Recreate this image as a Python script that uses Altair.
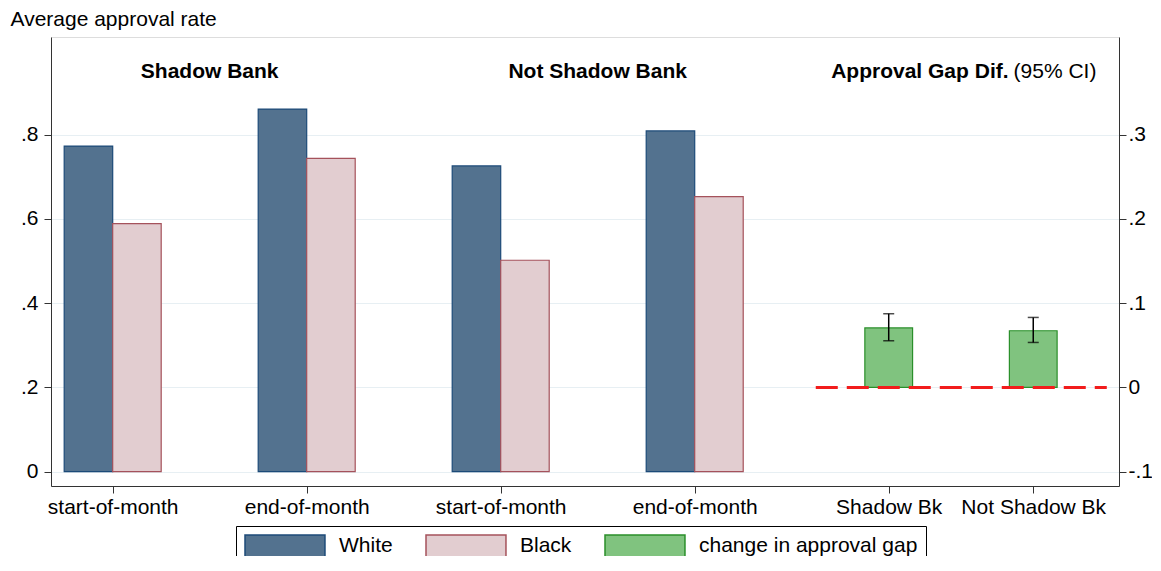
import altair as alt
import pandas as pd

FONT = "Liberation Sans"
FS = 21

# ---- data -------------------------------------------------------------
groups = ["start-of-month", "end-of-month", "start-of-month", "end-of-month"]
group_pos = [1, 2, 3, 4]
white_rate = [0.773, 0.861, 0.726, 0.809]
black_rate = [0.589, 0.744, 0.502, 0.653]

gap_labels = ["Shadow Bk", "Not Shadow Bk"]
gap_pos = [5, 5.745]
gap_est = [0.0706, 0.0673]
gap_lo = [0.0554, 0.0534]
gap_hi = [0.0875, 0.0831]

section_titles = ["Shadow Bank", "Not Shadow Bank"]
section_pos = [1.5, 3.5]
gap_title_bold = ["Approval Gap Dif."]
gap_title_rest = ["(95% CI)"]
gap_title_pos = [5.628]

zero_line_x = [4.624]
zero_line_x2 = [6.124]
zero_line_y = [0.0]

series = ["White", "Black", "change in approval gap"]
fills = ["#53728f", "#e2cdd0", "#80c37f"]
strokes = ["#1c4a78", "#a5525b", "#2a8f2a"]

left_ticks = [0, 0.2, 0.4, 0.6, 0.8]
right_ticks = [-0.1, 0, 0.1, 0.2, 0.3]

# ---- tables -----------------------------------------------------------
white_df = pd.DataFrame({"pos": group_pos, "rate": white_rate, "series": "White"})
black_df = pd.DataFrame({"pos": group_pos, "rate": black_rate, "series": "Black"})
gap_df = pd.DataFrame({"pos": gap_pos, "est": gap_est, "lo": gap_lo, "hi": gap_hi,
                       "series": "change in approval gap"})
sec_df = pd.DataFrame({"pos": section_pos, "label": section_titles})
gt_bold_df = pd.DataFrame({"pos": gap_title_pos, "label": gap_title_bold})
gt_rest_df = pd.DataFrame({"pos": gap_title_pos, "label": gap_title_rest})
zero_df = pd.DataFrame({"x0": zero_line_x, "x1": zero_line_x2, "y": zero_line_y})

# ---- scales / axes ----------------------------------------------------
tick_vals = group_pos + gap_pos
tick_labels = groups + gap_labels
label_expr = " : ".join(f"datum.value == {v} ? '{l}'" for v, l in zip(tick_vals, tick_labels)) + " : ''"

x_scale = alt.Scale(domain=[0.682, 6.187], nice=False, zero=False)
x_axis = alt.Axis(values=tick_vals, labelExpr=label_expr, title=None, grid=False,
                  domainColor="#333333", tickColor="#333333", tickSize=7, labelPadding=3,
                  labelFontSize=FS, labelFont=FONT, labelColor="black", labelFlush=False,
                  labelOverlap=False)

num_fmt = "replace(replace(format(datum.value, '.1~f'), '0.', '.'), '\u2212', '-')"

yl_scale = alt.Scale(domain=[-0.034, 1.032], nice=False, zero=False)
yl_axis = alt.Axis(values=left_ticks, labelExpr=num_fmt, grid=True, gridColor="#e7eff3",
                   gridWidth=1, domainColor="#333333", tickColor="#333333", tickSize=7,
                   labelPadding=6, labelFontSize=FS, labelFont=FONT, labelColor="black",
                   title="Average approval rate", titleAngle=0, titleX=-41, titleY=-18,
                   titleAlign="left", titleBaseline="middle", titleFontSize=FS,
                   titleFontWeight="normal", titleFont=FONT, titleColor="black",
                   labelFlush=False)

yr_scale = alt.Scale(domain=[-0.117, 0.416], nice=False, zero=False)
yr_axis = alt.Axis(values=right_ticks, labelExpr=num_fmt, orient="right", grid=False,
                   domainColor="#333333", tickColor="#333333", tickSize=7, labelPadding=2,
                   labelFontSize=FS, labelFont=FONT, labelColor="black", title=None,
                   labelFlush=False)

legend = alt.Legend(title=None, orient="none", legendX=185, legendY=489,
                    direction="horizontal", columns=3,
                    symbolType="M-1,-1L6.27,-1L6.27,1L-1,1Z", symbolSize=484,
                    symbolStrokeWidth=1.5, symbolOpacity=1,
                    labelFontSize=FS, labelFont=FONT, labelColor="black", labelOffset=71,
                    labelLimit=500,
                    columnPadding=30, padding=8, strokeColor="black", fillColor="white")

color_enc = alt.Color("series:N", scale=alt.Scale(domain=series, range=fills), legend=legend)
stroke_enc = alt.Stroke("series:N", scale=alt.Scale(domain=series, range=strokes), legend=legend)

# ---- left (approval rate) layers ---------------------------------------
white = alt.Chart(white_df).transform_calculate(
    x0="datum.pos - 0.25", x1="datum.pos"
).mark_rect(strokeWidth=1.2, opacity=1).encode(
    x=alt.X("x0:Q", scale=x_scale, axis=x_axis), x2="x1:Q",
    y=alt.Y("rate:Q", scale=yl_scale, axis=yl_axis), y2=alt.datum(0),
    color=color_enc, stroke=stroke_enc,
)
black = alt.Chart(black_df).transform_calculate(
    x0="datum.pos", x1="datum.pos + 0.25"
).mark_rect(strokeWidth=1.2, opacity=1).encode(
    x=alt.X("x0:Q", scale=x_scale, axis=x_axis), x2="x1:Q",
    y=alt.Y("rate:Q", scale=yl_scale, axis=yl_axis), y2=alt.datum(0),
    color=color_enc, stroke=stroke_enc,
)
sections = alt.Chart(sec_df).mark_text(font=FONT, fontSize=FS, fontWeight="bold",
                                       color="black", baseline="middle").encode(
    x=alt.X("pos:Q", scale=x_scale, axis=x_axis), y=alt.value(35), text="label:N")
gt_bold = alt.Chart(gt_bold_df).mark_text(font=FONT, fontSize=FS, fontWeight="bold",
                                          color="black", baseline="middle", align="right",
                                          dx=-2).encode(
    x=alt.X("pos:Q", scale=x_scale, axis=x_axis), y=alt.value(35), text="label:N")
gt_rest = alt.Chart(gt_rest_df).mark_text(font=FONT, fontSize=FS, color="black",
                                          baseline="middle", align="left", dx=3).encode(
    x=alt.X("pos:Q", scale=x_scale, axis=x_axis), y=alt.value(35), text="label:N")

left = alt.layer(white, black, sections, gt_bold, gt_rest)

# ---- right (gap difference) layers -------------------------------------
green = alt.Chart(gap_df).transform_calculate(
    x0="datum.pos - 0.123", x1="datum.pos + 0.123"
).mark_rect(strokeWidth=1.2, opacity=1).encode(
    x=alt.X("x0:Q", scale=x_scale, axis=x_axis), x2="x1:Q",
    y=alt.Y("est:Q", scale=yr_scale, axis=yr_axis), y2=alt.datum(0),
    color=color_enc, stroke=stroke_enc,
)
zero = alt.Chart(zero_df).mark_rule(color="#f21c1c", strokeWidth=3,
                                    strokeDash=[22, 9]).encode(
    x=alt.X("x0:Q", scale=x_scale, axis=x_axis), x2="x1:Q",
    y=alt.Y("y:Q", scale=yr_scale, axis=yr_axis),
)
err = alt.Chart(gap_df).mark_rule(color="black", strokeWidth=1.5).encode(
    x=alt.X("pos:Q", scale=x_scale, axis=x_axis),
    y=alt.Y("lo:Q", scale=yr_scale, axis=yr_axis), y2="hi:Q",
)
cap_lo = alt.Chart(gap_df).mark_tick(color="black", orient="horizontal", size=11,
                                     thickness=1.5).encode(
    x=alt.X("pos:Q", scale=x_scale, axis=x_axis),
    y=alt.Y("lo:Q", scale=yr_scale, axis=yr_axis),
)
cap_hi = alt.Chart(gap_df).mark_tick(color="black", orient="horizontal", size=11,
                                     thickness=1.5).encode(
    x=alt.X("pos:Q", scale=x_scale, axis=x_axis),
    y=alt.Y("hi:Q", scale=yr_scale, axis=yr_axis),
)

right = alt.layer(green, zero, err, cap_lo, cap_hi)

chart = alt.layer(left, right).resolve_scale(y="independent").properties(
    width=1068, height=449,
    autosize=alt.AutoSizeParams(type="none"),
    padding={"left": 43, "top": 29, "right": 33, "bottom": 70},
).configure_view(stroke=None).configure(background="white")

chart.save("out.html", embed_options={"renderer": "svg", "actions": False})
